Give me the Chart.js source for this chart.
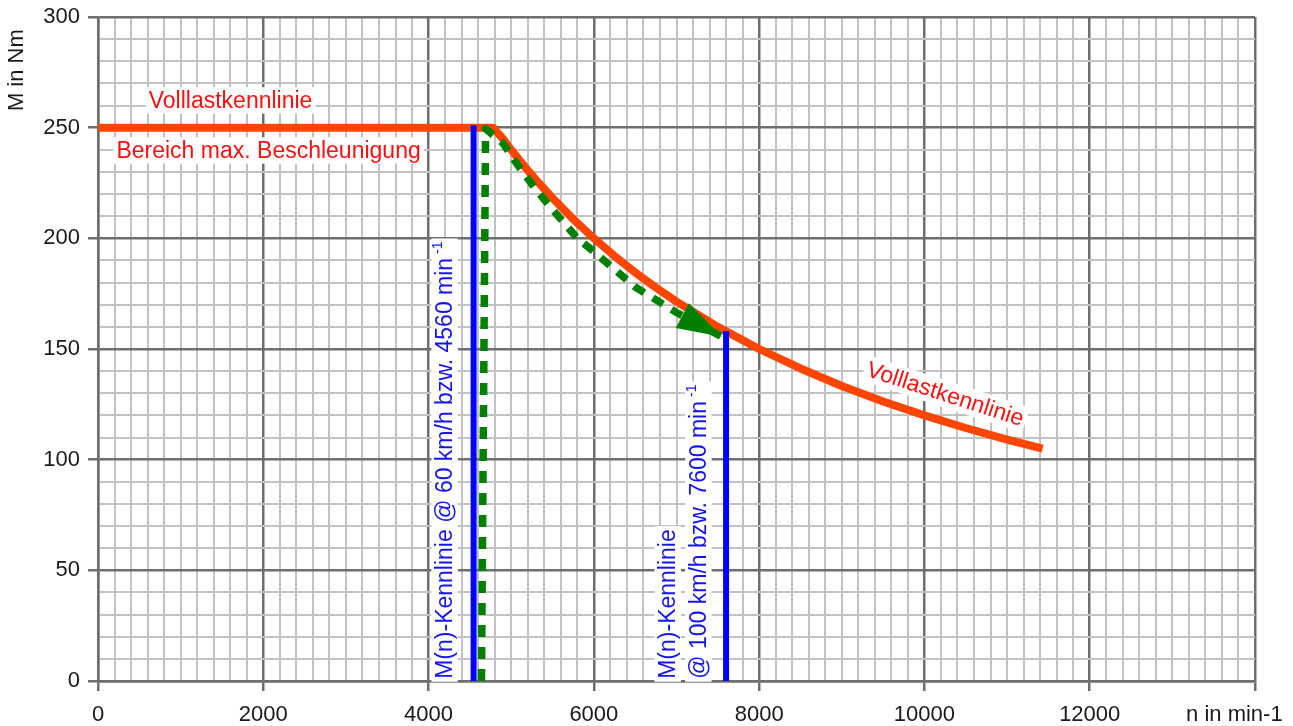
<!DOCTYPE html>
<html>
<head>
<meta charset="utf-8">
<script src="https://cdn.jsdelivr.net/npm/chart.js@4"></script>
<style>
html,body{margin:0;padding:0;background:#fff;}
#wrap{width:1293px;height:726px;}
</style>
</head>
<body>
<div id="wrap"><canvas id="c" width="1293" height="726"></canvas></div>
<script>
// ---- data ----
const xLabeledTicks = [0, 2000, 4000, 6000, 8000, 10000, 12000];
const yLabeledTicks = [0, 50, 100, 150, 200, 250, 300];

// Volllastkennlinie (full-load curve), n in min-1 / M in Nm
const fullLoadN = [0, 4780, 4900, 5000, 5150, 5300, 5500, 5750, 6000, 6250, 6500, 6750, 7000, 7500, 8000, 8500, 9000, 9500, 10000, 10500, 11000, 11430];
const fullLoadM = [250, 250, 245, 240, 233, 226.4, 218.2, 208.7, 200, 192, 184.6, 177.8, 171.4, 160, 150, 141.2, 133.3, 126.3, 120, 114.3, 109.1, 105];

// green dashed path (Bereich max. Beschleunigung), ends with arrow
const accelN = [4640, 4690, 4900, 5100, 5300, 5500, 5800, 6000, 6500, 7000, 7550];
const accelM = [0, 249.5, 243, 232, 222, 213, 200, 194, 178, 166.5, 155.5];

// M(n)-Kennlinie @ 60 km/h and @ 100 km/h
const at60N = [4545, 4545];
const at60M = [0, 251];
const at100N = [7600, 7600];
const at100M = [0, 158];

const xTitle = 'n in min-1';
const yTitle = 'M in Nm';

// ---- helpers ----
const FONT = '"Liberation Sans", Arial, sans-serif';
const pts = (xs, ys) => xs.map((x, i) => ({x, y: ys[i]}));

function boxedText(ctx, text, x, y, angle, color, size, align, sup) {
  ctx.save();
  ctx.translate(x, y);
  ctx.rotate(angle * Math.PI / 180);
  ctx.font = size + 'px ' + FONT;
  ctx.textBaseline = 'middle';
  ctx.textAlign = 'left';
  const w = ctx.measureText(text).width;
  let supW = 0;
  const supSize = Math.round(size * 0.6);
  if (sup) {
    ctx.font = supSize + 'px ' + FONT;
    supW = ctx.measureText(sup).width + 4;
    ctx.font = size + 'px ' + FONT;
  }
  const total = w + supW;
  const x0 = align === 'center' ? -total / 2 : 0;
  const h = size * 1.15;
  ctx.fillStyle = '#ffffff';
  ctx.fillRect(x0 - 3, -h / 2, total + 6, h);
  ctx.fillStyle = color;
  ctx.fillText(text, x0, 1);
  if (sup) {
    ctx.font = supSize + 'px ' + FONT;
    ctx.fillText(sup, x0 + w + 4, -6);
  }
  ctx.restore();
}

const annotations = [
  {text: 'Volllastkennlinie', n: 1604, m: 262.3, angle: 0, color: '#ff1010', align: 'center'},
  {text: 'Bereich max. Beschleunigung', n: 2064, m: 239.7, angle: 0, color: '#ff1010', align: 'center'},
  {text: 'Volllastkennlinie', n: 10253, m: 129.7, angle: 18, color: '#ff1010', align: 'center'},
  {text: 'M(n)-Kennlinie @ 60 km/h bzw. 4560 min', sup: '-1', n: 4194, m: 1, angle: -90, color: '#1414f0', align: 'left'},
  {text: 'M(n)-Kennlinie', n: 6893, m: 1, angle: -90, color: '#1414f0', align: 'left'},
  {text: '@ 100 km/h bzw. 7600 min', sup: '-1', n: 7265, m: 1, angle: -90, color: '#1414f0', align: 'left'}
];

const overlayPlugin = {
  id: 'overlay',
  afterDatasetsDraw(chart) {
    const ctx = chart.ctx;
    const xs = chart.scales.x, ys = chart.scales.y;
    // arrow head at the end of the green path
    const meta = chart.getDatasetMeta(1);
    const p = meta.data[meta.data.length - 1];
    const q = meta.data[meta.data.length - 2];
    const ang = Math.atan2(p.y - q.y, p.x - q.x);
    ctx.save();
    ctx.translate(p.x, p.y);
    ctx.rotate(ang);
    ctx.beginPath();
    ctx.moveTo(0, 0);
    ctx.lineTo(-45, -14);
    ctx.lineTo(-45, 14);
    ctx.closePath();
    ctx.fillStyle = '#008000';
    ctx.fill();
    ctx.restore();
    // text annotations
    annotations.forEach(a => {
      boxedText(ctx, a.text, xs.getPixelForValue(a.n), ys.getPixelForValue(a.m), a.angle, a.color, 23, a.align, a.sup);
    });
    // axis titles
    ctx.save();
    ctx.fillStyle = '#1a1a1a';
    ctx.font = '22px ' + FONT;
    ctx.textBaseline = 'middle';
    ctx.textAlign = 'center';
    ctx.fillText(xTitle, xs.getPixelForValue(13750), xs.top + 34);
    ctx.translate(17, ys.getPixelForValue(276));
    ctx.rotate(-Math.PI / 2);
    ctx.fillText(yTitle, 0, 0);
    ctx.restore();
  }
};

const MAJOR = '#6e6e6e', MINOR = '#c2c2c2';

new Chart(document.getElementById('c'), {
  type: 'line',
  data: {
    datasets: [
      {data: pts(at60N, at60M), borderColor: '#0000ff', borderWidth: 6, pointRadius: 0, borderCapStyle: 'butt', order: 0},
      {data: pts(accelN, accelM), borderColor: '#008000', borderWidth: 7.5, borderDash: [12, 10], pointRadius: 0, borderCapStyle: 'butt', borderJoinStyle: 'round', order: 2},
      {data: pts(at100N, at100M), borderColor: '#0000ff', borderWidth: 6, pointRadius: 0, borderCapStyle: 'butt', order: 1},
      {data: pts(fullLoadN, fullLoadM), borderColor: '#ff4500', borderWidth: 8, pointRadius: 0, borderCapStyle: 'butt', borderJoinStyle: 'round', tension: 0, order: 3}
    ]
  },
  options: {
    responsive: false,
    animation: false,
    devicePixelRatio: 1,
    layout: {padding: {top: 17, right: 38, left: 0, bottom: 0}},
    plugins: {legend: {display: false}, tooltip: {enabled: false}},
    scales: {
      x: {
        type: 'linear', min: 0, max: 14000,
        afterFit: s => { s.height = 45; s.paddingLeft = 0; s.paddingRight = 0; },
        ticks: {
          stepSize: 200, autoSkip: false, maxRotation: 0, padding: 11,
          color: '#1a1a1a', font: {family: FONT, size: 22},
          callback: v => xLabeledTicks.includes(v) ? String(v) : ''
        },
        grid: {
          color: c => (c.tick && c.tick.value % 2000 === 0) ? MAJOR : MINOR,
          lineWidth: c => (c.tick && c.tick.value % 2000 === 0) ? 2.5 : 2,
          tickColor: c => (c.tick && c.tick.value % 2000 === 0) ? MAJOR : 'rgba(0,0,0,0)',
          tickLength: 10
        },
        border: {color: MAJOR, width: 2.5}
      },
      y: {
        type: 'linear', min: 0, max: 300,
        afterFit: s => { s.width = 98; s.paddingTop = 0; s.paddingBottom = 0; },
        ticks: {
          stepSize: 10, autoSkip: false, padding: 8,
          color: '#1a1a1a', font: {family: FONT, size: 22},
          callback: v => yLabeledTicks.includes(v) ? String(v) : ''
        },
        grid: {
          color: c => (c.tick && c.tick.value % 50 === 0) ? MAJOR : MINOR,
          lineWidth: c => (c.tick && c.tick.value % 50 === 0) ? 2.5 : 2,
          tickColor: c => (c.tick && c.tick.value % 50 === 0) ? MAJOR : 'rgba(0,0,0,0)',
          tickLength: 10
        },
        border: {color: MAJOR, width: 2.5}
      }
    }
  },
  plugins: [overlayPlugin]
});
</script>
</body>
</html>
